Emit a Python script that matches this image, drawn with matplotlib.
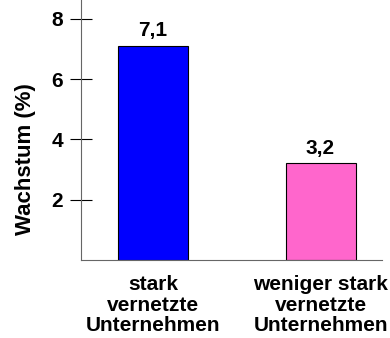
import matplotlib
matplotlib.use('Agg')
import matplotlib.pyplot as plt

plt.rcParams['font.family'] = ['Liberation Sans', 'DejaVu Sans']
plt.rcParams['font.weight'] = 'bold'

categories = ['stark\nvernetzte\nUnternehmen', 'weniger stark\nvernetzte\nUnternehmen']
values = [7.1, 3.2]
value_labels = ['7,1', '3,2']
colors = ['#0000FF', '#FF66CC']
yticks = [2, 4, 6, 8]

fig = plt.figure(figsize=(3.9, 3.38), dpi=100)
ax = fig.add_axes([81 / 390, 78 / 338, 301 / 390, 260 / 338])

pos = list(range(len(values)))
ax.bar(pos, values, width=0.418, color=colors, edgecolor='black', linewidth=0.8)

# value labels above the bars
for x, v, lab in zip(pos, values, value_labels):
    ax.text(x, v + 0.33, lab, ha='center', va='baseline', fontsize=15, fontweight='bold')

ax.set_xlim(-0.43, 1.367)
ax.set_ylim(0, 8.62)
ax.set_yticks(yticks)
ax.set_yticklabels([str(t) for t in yticks], fontsize=15, fontweight='bold')
ax.tick_params(axis='y', direction='inout', length=16, width=0.8, pad=5, colors='black')
ax.set_xticks(pos)
ax.set_xticklabels(categories, fontsize=15, fontweight='bold', linespacing=1.1)
ax.tick_params(axis='x', length=0, pad=11)

ax.spines['top'].set_visible(False)
ax.spines['right'].set_visible(False)
for s in ['left', 'bottom']:
    ax.spines[s].set_color('#666666')
    ax.spines[s].set_linewidth(0.8)

ax.set_ylabel('Wachstum (%)', fontsize=16, fontweight='bold', va='center')
ax.yaxis.set_label_coords(-0.186, 0.39)

fig.savefig('out.png', dpi=100)
